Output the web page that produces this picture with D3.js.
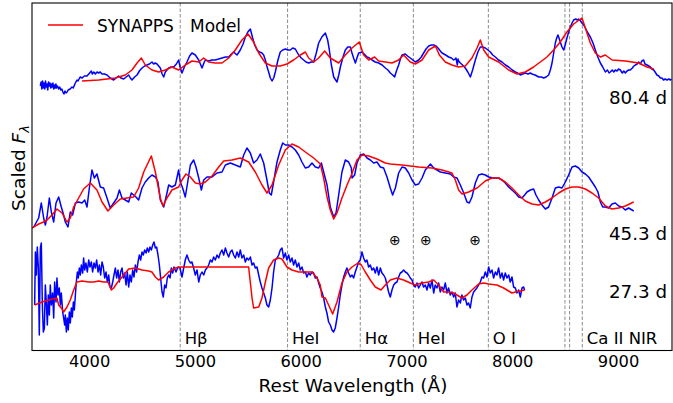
<!DOCTYPE html>
<html>
<head>
<meta charset="utf-8">
<script src="https://cdn.jsdelivr.net/npm/d3@7"></script>
<style>
  body { margin: 0; background: #fff; }
  svg { display: block; }
  text { font-family: "DejaVu Sans", sans-serif; fill: #000; }
</style>
</head>
<body>
<svg id="chart" width="673" height="403"></svg>
<script>
// Observed spectra (blue) and SYNAPPS fits (red), [rest wavelength Å, scaled flux incl. offset]
const obs80 = [[3539,2.64],[3546,2.68],[3553,2.61],[3560,2.69],[3567,2.62],[3574,2.67],[3581,2.61],[3588,2.69],[3595,2.63],[3602,2.66],[3609,2.60],[3616,2.68],[3623,2.64],[3630,2.67],[3637,2.62],[3644,2.66],[3651,2.63],[3658,2.67],[3665,2.61],[3672,2.65],[3679,2.62],[3686,2.66],[3693,2.62],[3702,2.64],[3712,2.61],[3722,2.63],[3732,2.60],[3742,2.61],[3752,2.58],[3762,2.56],[3772,2.59],[3782,2.57],[3792,2.58],[3802,2.60],[3820,2.61],[3838,2.63],[3850,2.62],[3865,2.66],[3885,2.70],[3895,2.69],[3915,2.73],[3933,2.72],[3955,2.74],[3980,2.74],[4005,2.77],[4021,2.79],[4030,2.76],[4045,2.78],[4059,2.76],[4075,2.78],[4090,2.77],[4105,2.78],[4122,2.76],[4145,2.76],[4169,2.75],[4200,2.72],[4232,2.70],[4255,2.72],[4279,2.74],[4300,2.72],[4327,2.71],[4350,2.73],[4374,2.75],[4390,2.72],[4405,2.70],[4430,2.73],[4453,2.75],[4475,2.79],[4500,2.82],[4525,2.84],[4547,2.85],[4570,2.86],[4594,2.88],[4610,2.86],[4625,2.87],[4642,2.86],[4673,2.82],[4690,2.76],[4705,2.73],[4720,2.78],[4752,2.82],[4775,2.83],[4799,2.83],[4825,2.86],[4846,2.90],[4862,2.82],[4878,2.77],[4900,2.83],[4925,2.88],[4950,2.94],[4972,2.97],[5004,2.95],[5036,2.90],[5067,2.82],[5085,2.87],[5099,2.90],[5130,2.89],[5160,2.90],[5193,2.90],[5225,2.91],[5256,2.92],[5290,2.93],[5319,2.93],[5345,2.96],[5366,2.98],[5398,2.95],[5429,3.00],[5455,3.06],[5477,3.13],[5500,3.18],[5524,3.21],[5546,3.12],[5565,3.05],[5587,3.00],[5610,2.98],[5634,2.97],[5650,2.95],[5666,2.90],[5680,2.84],[5697,2.78],[5713,2.72],[5729,2.69],[5745,2.72],[5760,2.78],[5785,2.90],[5807,2.98],[5830,3.00],[5855,3.01],[5880,3.00],[5902,3.00],[5925,3.02],[5949,3.01],[5981,2.95],[6005,2.92],[6028,2.90],[6050,2.88],[6075,2.87],[6100,2.88],[6123,2.88],[6145,2.96],[6170,3.07],[6200,3.13],[6233,3.17],[6255,3.10],[6271,3.00],[6290,2.85],[6312,2.73],[6343,2.68],[6360,2.75],[6375,2.83],[6400,2.93],[6422,3.00],[6445,3.03],[6469,3.03],[6485,2.97],[6500,2.92],[6517,2.87],[6535,2.93],[6548,2.97],[6580,2.98],[6600,2.96],[6627,2.93],[6650,2.92],[6674,2.90],[6705,2.88],[6737,2.87],[6770,2.85],[6800,2.82],[6825,2.80],[6847,2.77],[6870,2.75],[6888,2.73],[6905,2.79],[6926,2.85],[6945,2.92],[6958,2.95],[6989,2.96],[7010,2.94],[7036,2.92],[7060,2.90],[7084,2.88],[7115,2.90],[7140,2.93],[7162,2.97],[7185,3.01],[7210,3.04],[7235,3.05],[7257,3.05],[7280,3.04],[7298,3.02],[7320,2.99],[7336,2.97],[7370,2.95],[7399,2.93],[7425,2.92],[7446,2.90],[7460,2.91],[7468,2.92],[7475,2.88],[7481,2.85],[7487,2.91],[7493,2.89],[7509,2.87],[7530,2.85],[7556,2.82],[7580,2.78],[7604,2.73],[7625,2.80],[7651,2.90],[7675,2.98],[7698,3.03],[7720,3.03],[7745,3.02],[7770,3.00],[7793,2.98],[7815,2.95],[7840,2.93],[7870,2.90],[7903,2.88],[7935,2.85],[7966,2.83],[8000,2.80],[8029,2.78],[8050,2.77],[8076,2.75],[8100,2.76],[8123,2.77],[8150,2.76],[8170,2.77],[8187,2.76],[8215,2.75],[8250,2.73],[8275,2.73],[8297,2.72],[8320,2.73],[8344,2.75],[8360,2.80],[8376,2.87],[8390,2.96],[8407,3.07],[8420,3.12],[8432,3.15],[8445,3.11],[8454,3.08],[8470,3.03],[8486,3.00],[8500,3.05],[8517,3.12],[8533,3.18],[8549,3.23],[8565,3.27],[8580,3.30],[8600,3.31],[8615,3.30],[8628,3.31],[8645,3.29],[8659,3.27],[8675,3.25],[8691,3.22],[8715,3.17],[8738,3.13],[8755,3.09],[8770,3.05],[8785,3.00],[8801,2.95],[8817,2.91],[8833,2.87],[8855,2.83],[8880,2.78],[8900,2.80],[8915,2.77],[8927,2.78],[8945,2.80],[8960,2.78],[8974,2.80],[8990,2.79],[9005,2.81],[9022,2.80],[9040,2.77],[9055,2.79],[9069,2.77],[9085,2.79],[9100,2.80],[9116,2.80],[9135,2.82],[9150,2.84],[9163,2.85],[9180,2.86],[9195,2.88],[9211,2.86],[9225,2.89],[9242,2.90],[9255,2.86],[9274,2.85],[9290,2.84],[9305,2.83],[9320,2.81],[9337,2.80],[9350,2.78],[9368,2.75],[9385,2.74],[9400,2.72],[9415,2.72],[9430,2.70],[9445,2.71],[9463,2.70],[9480,2.71],[9495,2.70],[9504,2.71]];

const model80 = [[3933,2.69],[4090,2.70],[4248,2.72],[4342,2.75],[4405,2.80],[4453,2.87],[4494,2.92],[4531,2.85],[4594,2.80],[4657,2.78],[4720,2.80],[4783,2.83],[4846,2.80],[4909,2.85],[4972,2.89],[5036,2.88],[5083,2.92],[5130,2.88],[5193,2.87],[5256,2.87],[5319,2.92],[5382,3.00],[5445,3.10],[5502,3.16],[5555,3.08],[5603,2.97],[5666,2.87],[5729,2.84],[5807,2.84],[5870,2.86],[5933,2.90],[5997,2.95],[6044,2.98],[6075,2.92],[6123,2.88],[6170,2.92],[6227,2.99],[6280,2.92],[6359,2.87],[6422,2.95],[6485,3.02],[6554,3.08],[6595,2.95],[6643,2.90],[6699,2.93],[6737,2.89],[6800,2.88],[6863,2.87],[6926,2.90],[6973,2.95],[7036,2.88],[7084,2.86],[7147,2.90],[7210,3.00],[7273,3.04],[7311,2.95],[7367,2.88],[7430,2.85],[7493,2.83],[7556,2.84],[7619,2.92],[7667,3.02],[7698,3.10],[7730,3.00],[7777,2.93],[7871,2.88],[7966,2.80],[8045,2.76],[8123,2.78],[8202,2.83],[8265,2.88],[8328,2.93],[8391,3.00],[8454,3.08],[8517,3.18],[8580,3.26],[8659,3.32],[8691,3.22],[8738,3.07],[8785,2.97],[8833,2.93],[8880,2.95],[8943,2.90],[9069,2.89],[9195,2.87],[9274,2.83],[9337,2.81]];

const obs45 = [[3476,1.23],[3492,1.26],[3523,1.32],[3548,1.47],[3570,1.32],[3586,1.25],[3602,1.33],[3624,1.52],[3643,1.38],[3665,1.28],[3687,1.47],[3712,1.53],[3737,1.43],[3759,1.35],[3775,1.28],[3800,1.23],[3822,1.38],[3844,1.35],[3870,1.47],[3901,1.48],[3933,1.47],[3958,1.50],[3980,1.43],[4002,1.62],[4027,1.80],[4049,1.72],[4074,1.76],[4106,1.63],[4137,1.62],[4169,1.52],[4200,1.42],[4232,1.47],[4264,1.52],[4286,1.60],[4311,1.52],[4342,1.50],[4374,1.48],[4399,1.57],[4421,1.55],[4443,1.53],[4468,1.50],[4500,1.62],[4531,1.68],[4563,1.72],[4594,1.75],[4626,1.73],[4651,1.68],[4673,1.50],[4705,1.43],[4736,1.57],[4752,1.65],[4783,1.63],[4815,1.65],[4846,1.80],[4862,1.68],[4884,1.62],[4909,1.53],[4932,1.68],[4957,1.85],[4988,1.90],[5010,1.83],[5036,1.72],[5061,1.60],[5083,1.70],[5114,1.73],[5162,1.73],[5209,1.77],[5256,1.78],[5288,1.85],[5335,1.87],[5382,1.85],[5429,1.83],[5461,1.95],[5492,2.02],[5524,1.97],[5555,1.87],[5587,1.90],[5618,1.96],[5650,1.87],[5681,1.70],[5703,1.57],[5722,1.55],[5744,1.68],[5776,1.88],[5807,2.00],[5830,2.07],[5855,2.05],[5886,2.05],[5918,2.03],[5949,2.00],[5981,1.95],[6012,1.88],[6044,1.82],[6075,1.83],[6107,1.87],[6138,1.83],[6170,1.82],[6195,1.87],[6217,1.78],[6249,1.65],[6280,1.43],[6312,1.33],[6334,1.37],[6359,1.55],[6390,1.78],[6422,1.90],[6453,1.88],[6479,1.82],[6485,1.72],[6510,1.75],[6532,1.87],[6564,1.95],[6595,1.96],[6627,1.92],[6658,1.90],[6690,1.87],[6721,1.88],[6753,1.83],[6784,1.82],[6816,1.73],[6847,1.62],[6869,1.55],[6895,1.62],[6926,1.77],[6958,1.83],[6989,1.82],[7021,1.77],[7052,1.70],[7084,1.65],[7115,1.66],[7147,1.72],[7178,1.80],[7226,1.86],[7257,1.82],[7289,1.80],[7320,1.78],[7367,1.77],[7415,1.76],[7446,1.73],[7478,1.72],[7509,1.65],[7541,1.57],[7572,1.48],[7594,1.47],[7619,1.53],[7651,1.67],[7682,1.75],[7714,1.76],[7745,1.75],[7777,1.73],[7824,1.72],[7871,1.72],[7903,1.70],[7934,1.67],[7966,1.63],[7997,1.60],[8029,1.57],[8061,1.53],[8092,1.52],[8117,1.55],[8139,1.58],[8171,1.60],[8202,1.61],[8224,1.55],[8250,1.50],[8281,1.45],[8313,1.41],[8344,1.43],[8376,1.52],[8407,1.62],[8439,1.63],[8470,1.62],[8502,1.68],[8533,1.75],[8565,1.83],[8596,1.84],[8628,1.82],[8659,1.78],[8691,1.76],[8722,1.73],[8754,1.68],[8785,1.63],[8810,1.58],[8833,1.48],[8855,1.43],[8880,1.43],[8911,1.42],[8943,1.46],[8974,1.47],[9006,1.44],[9037,1.43],[9069,1.40],[9100,1.42],[9132,1.40],[9148,1.39]];

const model45 = [[3460,1.22],[3523,1.26],[3570,1.28],[3602,1.30],[3649,1.35],[3696,1.41],[3744,1.37],[3791,1.28],[3822,1.32],[3854,1.43],[3901,1.52],[3948,1.61],[4011,1.67],[4074,1.60],[4122,1.48],[4178,1.39],[4232,1.45],[4295,1.51],[4358,1.52],[4421,1.53],[4468,1.62],[4516,1.78],[4588,1.94],[4626,1.78],[4673,1.52],[4698,1.44],[4736,1.52],[4783,1.60],[4846,1.63],[4878,1.70],[4916,1.76],[4957,1.73],[5004,1.67],[5051,1.66],[5099,1.68],[5162,1.74],[5225,1.83],[5272,1.89],[5351,1.90],[5429,1.92],[5508,1.88],[5571,1.78],[5634,1.65],[5681,1.57],[5729,1.65],[5792,1.85],[5855,2.00],[5918,2.06],[5981,2.03],[6044,1.98],[6123,1.92],[6186,1.86],[6217,1.72],[6249,1.53],[6280,1.40],[6312,1.31],[6343,1.37],[6390,1.52],[6438,1.65],[6479,1.75],[6532,1.90],[6580,1.95],[6643,1.94],[6721,1.91],[6800,1.87],[6847,1.86],[6958,1.85],[7115,1.83],[7241,1.82],[7336,1.80],[7430,1.77],[7462,1.70],[7493,1.60],[7525,1.56],[7588,1.58],[7667,1.62],[7745,1.69],[7808,1.72],[7871,1.72],[7934,1.68],[7997,1.62],[8061,1.55],[8123,1.49],[8187,1.46],[8250,1.45],[8313,1.48],[8376,1.52],[8439,1.57],[8502,1.61],[8565,1.63],[8628,1.63],[8691,1.61],[8754,1.57],[8817,1.52],[8880,1.44],[8943,1.41],[9006,1.42],[9069,1.44],[9148,1.48]];

const obs27 = [[3485,0.45],[3492,0.98],[3501,0.75],[3510,1.03],[3520,0.82],[3529,0.15],[3539,1.02],[3548,1.07],[3558,0.45],[3567,0.18],[3577,0.22],[3586,0.65],[3595,0.48],[3605,0.25],[3614,0.55],[3624,0.35],[3633,0.65],[3643,0.45],[3655,0.57],[3665,0.32],[3674,0.68],[3687,0.48],[3696,0.72],[3706,0.55],[3718,0.62],[3728,0.45],[3737,0.57],[3750,0.38],[3759,0.32],[3769,0.25],[3775,0.35],[3785,0.18],[3794,0.32],[3803,0.20],[3813,0.38],[3822,0.27],[3832,0.42],[3841,0.33],[3851,0.48],[3860,0.40],[3870,0.55],[3879,0.68],[3889,0.78],[3898,0.72],[3907,0.82],[3917,0.75],[3926,0.85],[3939,0.77],[3948,0.92],[3958,0.80],[3970,0.87],[3983,0.78],[3996,0.90],[4008,0.83],[4021,0.88],[4033,0.78],[4046,0.87],[4059,0.82],[4071,0.90],[4084,0.78],[4097,0.85],[4109,0.75],[4122,0.88],[4134,0.83],[4147,0.72],[4160,0.78],[4172,0.68],[4185,0.75],[4197,0.63],[4210,0.62],[4223,0.68],[4235,0.75],[4248,0.82],[4260,0.72],[4273,0.80],[4286,0.68],[4298,0.78],[4311,0.82],[4323,0.72],[4336,0.77],[4349,0.65],[4361,0.78],[4374,0.63],[4386,0.75],[4399,0.68],[4412,0.80],[4424,0.73],[4437,0.85],[4449,0.78],[4462,0.88],[4475,0.95],[4487,0.90],[4500,0.98],[4512,0.95],[4525,1.00],[4538,0.97],[4550,1.02],[4563,0.98],[4575,1.03],[4588,1.00],[4601,1.05],[4613,1.08],[4626,1.02],[4638,1.03],[4651,0.95],[4664,0.85],[4676,0.72],[4689,0.58],[4701,0.53],[4714,0.65],[4727,0.62],[4739,0.72],[4752,0.75],[4765,0.72],[4777,0.82],[4790,0.77],[4802,0.83],[4821,0.78],[4840,0.83],[4859,0.82],[4878,0.73],[4894,0.82],[4909,0.90],[4925,0.95],[4941,0.90],[4957,0.87],[4972,0.88],[4988,0.82],[5004,0.75],[5020,0.80],[5036,0.68],[5051,0.75],[5067,0.78],[5083,0.75],[5099,0.80],[5114,0.82],[5130,0.85],[5146,0.90],[5162,0.88],[5177,0.93],[5193,0.90],[5209,0.95],[5225,0.92],[5240,0.97],[5256,1.00],[5272,0.95],[5288,1.02],[5303,0.97],[5319,0.93],[5335,0.98],[5351,1.00],[5366,0.95],[5382,0.92],[5398,0.98],[5414,0.93],[5429,1.00],[5445,0.92],[5461,0.95],[5477,0.88],[5492,0.92],[5508,0.90],[5524,0.93],[5540,0.85],[5555,0.87],[5571,0.82],[5587,0.83],[5603,0.75],[5618,0.68],[5634,0.62],[5650,0.57],[5666,0.52],[5681,0.45],[5697,0.43],[5713,0.50],[5729,0.62],[5744,0.78],[5760,0.90],[5776,0.92],[5792,0.95],[5807,1.00],[5823,1.02],[5839,0.92],[5855,0.97],[5870,0.90],[5886,0.95],[5902,0.88],[5918,0.92],[5933,0.85],[5949,0.90],[5965,0.83],[5981,0.87],[5996,0.80],[6012,0.83],[6028,0.77],[6044,0.78],[6059,0.73],[6075,0.77],[6091,0.75],[6107,0.78],[6122,0.77],[6138,0.72],[6154,0.73],[6170,0.67],[6185,0.62],[6201,0.58],[6217,0.52],[6233,0.43],[6248,0.37],[6264,0.28],[6280,0.25],[6296,0.20],[6311,0.18],[6327,0.22],[6343,0.32],[6359,0.43],[6374,0.55],[6390,0.65],[6406,0.73],[6422,0.78],[6437,0.82],[6453,0.77],[6469,0.73],[6485,0.75],[6500,0.72],[6516,0.78],[6532,0.83],[6548,0.88],[6563,0.90],[6579,0.98],[6595,0.92],[6611,0.88],[6626,0.90],[6642,0.83],[6658,0.85],[6674,0.80],[6690,0.82],[6705,0.77],[6721,0.83],[6737,0.75],[6753,0.82],[6768,0.77],[6784,0.75],[6800,0.72],[6816,0.65],[6831,0.58],[6847,0.53],[6863,0.60],[6879,0.65],[6894,0.67],[6910,0.68],[6926,0.73],[6942,0.77],[6957,0.78],[6973,0.80],[6989,0.78],[7005,0.77],[7020,0.75],[7036,0.72],[7052,0.70],[7068,0.65],[7083,0.63],[7099,0.67],[7115,0.62],[7131,0.65],[7146,0.68],[7162,0.63],[7178,0.65],[7194,0.60],[7209,0.67],[7225,0.62],[7241,0.70],[7257,0.57],[7272,0.65],[7288,0.62],[7304,0.67],[7320,0.58],[7335,0.63],[7351,0.60],[7367,0.67],[7383,0.57],[7398,0.62],[7414,0.55],[7430,0.58],[7446,0.53],[7461,0.57],[7477,0.43],[7493,0.50],[7509,0.47],[7524,0.55],[7540,0.50],[7556,0.52],[7572,0.45],[7587,0.47],[7603,0.42],[7619,0.53],[7635,0.58],[7650,0.60],[7666,0.62],[7682,0.65],[7698,0.68],[7714,0.73],[7729,0.72],[7745,0.78],[7761,0.73],[7777,0.83],[7792,0.77],[7808,0.80],[7824,0.72],[7840,0.78],[7855,0.75],[7871,0.82],[7887,0.72],[7903,0.77],[7918,0.70],[7934,0.77],[7950,0.72],[7966,0.75],[7981,0.68],[7997,0.73],[8013,0.63],[8029,0.62],[8044,0.57],[8060,0.60],[8076,0.53],[8092,0.62],[8107,0.63],[8117,0.60]];

const model27 = [[3485,0.45],[3555,0.48],[3618,0.50],[3696,0.52],[3712,0.45],[3744,0.41],[3759,0.38],[3791,0.43],[3822,0.50],[3854,0.60],[3885,0.68],[3933,0.69],[3996,0.68],[4043,0.68],[4090,0.69],[4137,0.68],[4178,0.68],[4210,0.60],[4232,0.62],[4264,0.67],[4311,0.73],[4374,0.81],[4437,0.82],[4500,0.80],[4563,0.79],[4594,0.78],[4626,0.73],[4657,0.70],[4705,0.73],[4752,0.78],[4815,0.82],[4862,0.83],[5036,0.83],[5193,0.83],[5351,0.83],[5508,0.83],[5540,0.52],[5555,0.42],[5603,0.43],[5634,0.52],[5666,0.68],[5697,0.82],[5744,0.90],[5792,0.92],[5823,0.91],[5870,0.83],[5918,0.80],[5981,0.78],[6044,0.78],[6107,0.78],[6154,0.72],[6185,0.65],[6201,0.53],[6233,0.52],[6264,0.45],[6302,0.36],[6343,0.48],[6390,0.67],[6437,0.78],[6485,0.83],[6541,0.87],[6573,0.85],[6611,0.78],[6658,0.70],[6705,0.63],[6759,0.60],[6800,0.65],[6847,0.70],[6910,0.72],[6973,0.70],[7036,0.67],[7083,0.65],[7146,0.67],[7209,0.68],[7257,0.70],[7304,0.65],[7351,0.58],[7398,0.58],[7446,0.57],[7493,0.54],[7524,0.52],[7572,0.55],[7619,0.60],[7682,0.66],[7729,0.67],[7777,0.66],[7855,0.65],[7918,0.62],[7966,0.59],[7997,0.57],[8029,0.58],[8076,0.59],[8117,0.60]];

// Line identifications
const lineWaves = [4861, 5876, 6563, 7065, 7774, 8498, 8542, 8662];
const lineLabels = [
  { wave: 4861, text: "Hβ" },
  { wave: 5876, text: "HeI" },
  { wave: 6563, text: "Hα" },
  { wave: 7065, text: "HeI" },
  { wave: 7774, text: "O I" },
  { wave: 8662, text: "Ca II NIR" }
];
const telluricWaves = [6891, 7184, 7648];
const epochs = [
  { text: "80.4 d", flux: 2.46 },
  { text: "45.3 d", flux: 1.10 },
  { text: "27.3 d", flux: 0.52 }
];
const xTicks = [4000, 5000, 6000, 7000, 8000, 9000];

const svg = d3.select("#chart");
const box = { left: 32, right: 672, top: 3, bottom: 350.5 };

const x = d3.scaleLinear().domain([3460, 9510]).range([box.left, box.right]);
const y = d3.scaleLinear().domain([0, 3.47]).range([350, 3]);

svg.append("defs").append("clipPath").attr("id", "plotclip")
  .append("rect")
  .attr("x", box.left).attr("y", box.top)
  .attr("width", box.right - box.left).attr("height", box.bottom - box.top);

// Dashed line markers
svg.append("g").selectAll("line").data(lineWaves).join("line")
  .attr("x1", d => x(d)).attr("x2", d => x(d))
  .attr("y1", box.top).attr("y2", box.bottom)
  .attr("stroke", "#7f7f7f").attr("stroke-width", 0.9)
  .attr("stroke-dasharray", "3.5,2");

const line = d3.line().x(d => x(d[0])).y(d => y(d[1]));
const plotG = svg.append("g").attr("clip-path", "url(#plotclip)");

[obs80, obs45, obs27].forEach(s => {
  plotG.append("path").datum(s).attr("d", line)
    .attr("fill", "none").attr("stroke", "#0000ff")
    .attr("stroke-width", 1.5).attr("stroke-linejoin", "round");
});
[model80, model45, model27].forEach(s => {
  plotG.append("path").datum(s).attr("d", line)
    .attr("fill", "none").attr("stroke", "#ff0000")
    .attr("stroke-width", 1.5).attr("stroke-linejoin", "round");
});

// Line labels
svg.append("g").selectAll("text").data(lineLabels).join("text")
  .attr("x", d => x(d.wave) + 4.5).attr("y", y(0.06))
  .attr("font-size", 16.5).text(d => d.text);

// Telluric markers
svg.append("g").selectAll("text").data(telluricWaves).join("text")
  .attr("x", d => x(d)).attr("y", y(1.10)).attr("dy", "0.35em")
  .attr("text-anchor", "middle").attr("font-size", 14).text("⊕");

// Epoch labels
svg.append("g").selectAll("text").data(epochs).join("text")
  .attr("x", x(9463)).attr("y", d => y(d.flux))
  .attr("text-anchor", "end").attr("font-size", 18.3).text(d => d.text);

// Axis box
svg.append("rect")
  .attr("x", box.left).attr("y", box.top)
  .attr("width", box.right - box.left).attr("height", box.bottom - box.top)
  .attr("fill", "none").attr("stroke", "#000").attr("stroke-width", 1.1);

// X axis
const xAxis = svg.append("g").attr("transform", `translate(0,${box.bottom})`)
  .call(d3.axisBottom(x).tickValues(xTicks).tickSize(0).tickFormat(d3.format("d")));
xAxis.select(".domain").remove();
xAxis.selectAll("text")
  .attr("dy", null).attr("y", 16.5)
  .attr("font-size", 16.3).attr("font-family", "DejaVu Sans").attr("fill", "#000");

svg.append("text")
  .attr("x", (box.left + box.right) / 2 + 1).attr("y", 392)
  .attr("text-anchor", "middle").attr("font-size", 18.5)
  .text("Rest Wavelength (Å)");

// Y label
const yl = svg.append("text")
  .attr("transform", "translate(25,168) rotate(-90)")
  .attr("text-anchor", "middle").attr("font-size", 18.5);
yl.append("tspan").text("Scaled ");
yl.append("tspan").attr("font-style", "italic").text("F");
yl.append("tspan").attr("font-style", "italic").attr("font-size", 13).attr("dy", 4).text("λ");

// Legend
svg.append("line").attr("x1", 48).attr("x2", 83).attr("y1", 25).attr("y2", 25)
  .attr("stroke", "#ff0000").attr("stroke-width", 1.5);
svg.append("text").attr("x", 97).attr("y", 31.5).attr("font-size", 17)
  .attr("xml:space", "preserve").style("white-space", "pre")
  .text("SYNAPPS   Model");
</script>
</body>
</html>
